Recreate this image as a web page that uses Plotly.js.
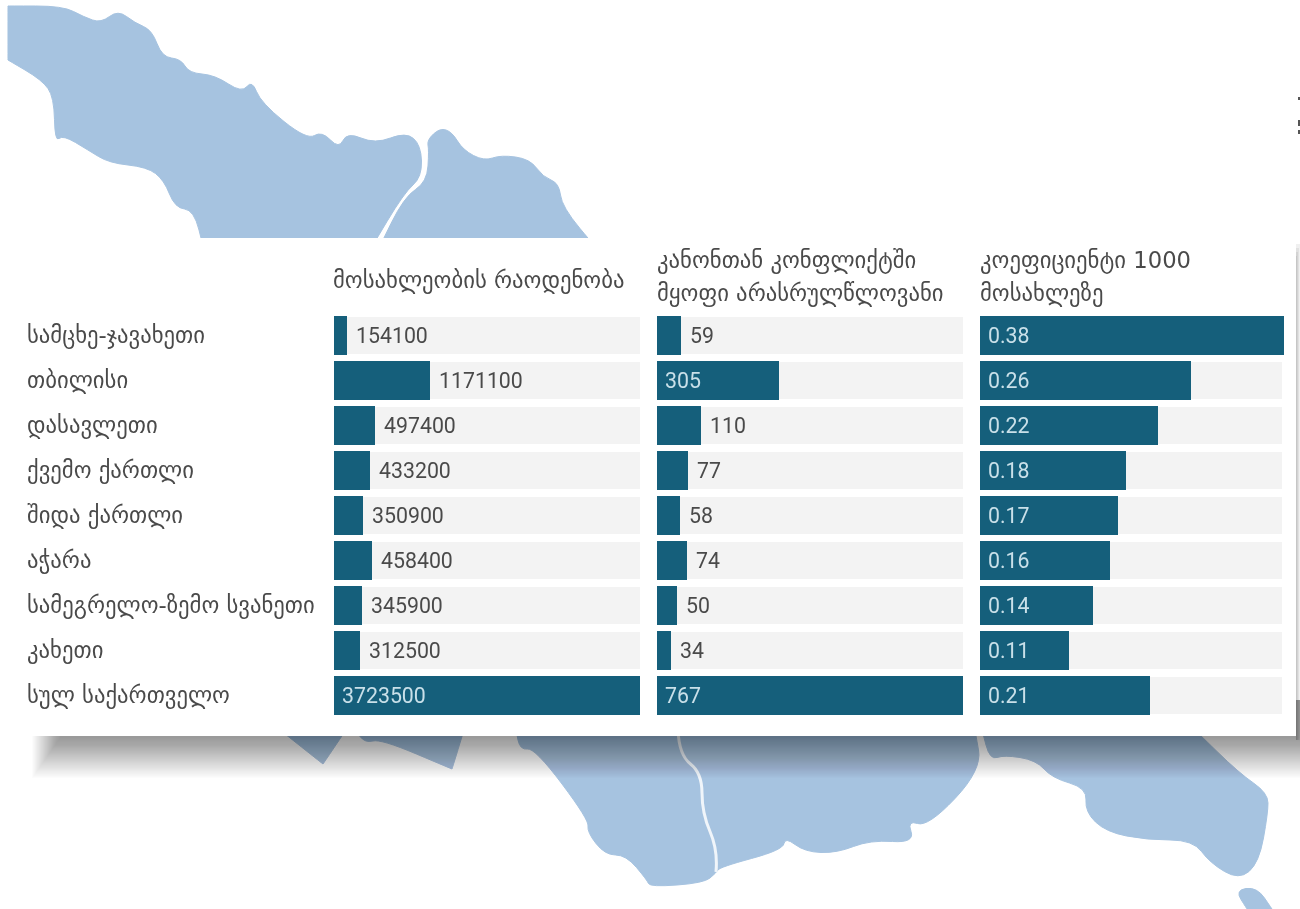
<!DOCTYPE html>
<html><head><meta charset="utf-8">
<script src="https://cdn.plot.ly/plotly-3.0.0.min.js"></script>
<style>html,body{margin:0;padding:0;background:#fff}#chart{width:1300px;height:909px;filter:blur(0.5px)}</style>
</head><body><div id="chart"></div>
<script>
const regions = ['სამცხე-ჯავახეთი','თბილისი','დასავლეთი','ქვემო ქართლი','შიდა ქართლი','აჭარა','სამეგრელო-ზემო სვანეთი','კახეთი','სულ საქართველო'];
const population = [154100,1171100,497400,433200,350900,458400,345900,312500,3723500];
const juveniles = [59,305,110,77,58,74,50,34,767];
const ratePer1000 = [0.38,0.26,0.22,0.18,0.17,0.16,0.14,0.11,0.21];
const populationHeader = ['მოსახლეობის რაოდენობა'];
const juvenilesHeader = ['კანონთან კონფლიქტში','მყოფი არასრულწლოვანი'];
const rateHeader = ['კოეფიციენტი 1000','მოსახლეზე'];

const W = 1300, H = 909;
const BAR = '#155f7b', TRACK = '#f3f3f3', MAP = '#a6c3e0', INK = '#4a4a4a', INSIDE = '#c9e0e9';
const px = (p) => (p[0] / W).toFixed(5) + ',' + (1 - p[1] / H).toFixed(5);
// rounded outline: each vertex is a quadratic control point between edge midpoints; a doubled vertex stays sharp
const mid = (a, b) => [(a[0] + b[0]) / 2, (a[1] + b[1]) / 2];
const smoothClosed = (pts) => {
  let d = 'M' + px(mid(pts[pts.length - 1], pts[0]));
  pts.forEach((p, i) => { d += ' Q' + px(p) + ' ' + px(mid(p, pts[(i + 1) % pts.length])); });
  return d + ' Z';
};
const smoothOpen = (pts) => {
  let d = 'M' + px(pts[0]);
  for (let i = 1; i < pts.length - 1; i++) d += ' Q' + px(pts[i]) + ' ' + px(i === pts.length - 2 ? pts[i + 1] : mid(pts[i], pts[i + 1]));
  return d;
};

// decorative background map, page-pixel outlines
const mapWest = [[8,6],[8,6],[63,6],[84,17],[101,23],[118,10],[135,23],[152,30],[162,57],[181,59],[189,73],[215,75],[242,93],[252,80],[261,103],[307,140],[322,131],[339,149],[347,132],[375,144],[406,132],[421,145],[422,177],[404,193],[370,250],[370,250],[204,250],[204,250],[194,210],[175,208],[164,180],[147,167],[109,163],[88,150],[63,135],[55,142],[54,97],[42,80],[8,60],[8,60]];
const mapEast = [[427,140],[440,128],[452,132],[463,150],[484,161],[501,155],[530,159],[543,177],[559,183],[562,207],[598,250],[598,250],[378,250],[378,250],[404,197],[427,182],[429,150]];
const mapA = [[280,730],[280,730],[323,764],[323,764],[346,730],[346,730]];
const mapB = [[355,730],[355,730],[365,743],[381,739],[452,769],[452,769],[464,730],[464,730]];
const mapC = [[516,730],[516,730],[520,750],[535,748],[589,820],[587,832],[605,855],[626,855],[647,880],[650,887],[704,883],[716,873],[720,867],[783,850],[785,837],[805,852],[837,853],[870,840],[915,843],[907,820],[928,827],[982,770],[975,730],[975,730]];
const mapD = [[982,730],[982,730],[990,760],[1004,755],[1036,760],[1052,778],[1087,788],[1085,812],[1106,832],[1147,840],[1193,840],[1210,863],[1239,880],[1259,863],[1268,813],[1268,793],[1239,773],[1195,730],[1195,730]];
const mapE = [[1235,890],[1257,887],[1272,909],[1272,909],[1247,909],[1247,909]];
const river = [[678,730],[679,755],[702,773],[702,813],[718,850],[716,872]];
const river2 = [[977,730],[982,770]];

const shapes = [];
[mapWest, mapEast, mapA, mapB, mapC, mapD, mapE].forEach(p =>
  shapes.push({type:'path', xref:'paper', yref:'paper', layer:'below', path:smoothClosed(p), fillcolor:MAP, line:{width:1, color:MAP}}));
[river, river2].forEach(p =>
  shapes.push({type:'path', xref:'paper', yref:'paper', layer:'below', path:smoothOpen(p), line:{width:3, color:'#f0f5fa'}}));
// soft shadow under the card
for (let i = 0; i < 36; i++) {
  shapes.push({type:'rect', xref:'paper', yref:'paper', layer:'below',
    x0:(60 - i * 0.8) / W, x1:1310 / W, y0:1 - (738 + i * 1.15) / H, y1:1 - 700 / H,
    fillcolor:'rgba(0,0,0,0.0105)', line:{width:0}});
}
// shadow strip at the card's right edge
for (let i = 0; i < 4; i++) {
  shapes.push({type:'rect', xref:'paper', yref:'paper', layer:'below',
    x0:1296 / W, x1:(1297 + i) / W, y0:1 - 740 / H, y1:1 - (256 - i * 4) / H,
    fillcolor:'rgba(0,0,0,0.06)', line:{width:0}});
}
shapes.push({type:'rect', xref:'paper', yref:'paper', layer:'below', x0:22/W, x1:1296/W, y0:1-736/H, y1:1-238/H, fillcolor:'#ffffff', line:{width:0}});
// tiny clipped glyph at the right edge of the source image
[[97,100],[120,126],[130,134]].forEach(r =>
  shapes.push({type:'rect', xref:'paper', yref:'paper', layer:'below', x0:1298/W, x1:1300/W, y0:1-r[1]/H, y1:1-r[0]/H, fillcolor:'#555', line:{width:0}}));

const columns = [
  {vals:population, xa:'x',  key:'xaxis',  dom:[334,640], range:[0,3723500], inside:[8]},
  {vals:juveniles,  xa:'x2', key:'xaxis2', dom:[657,963], range:[0,767], inside:[1,8]},
  {vals:ratePer1000,xa:'x3', key:'xaxis3', dom:[980,1284], range:[0,0.3753], inside:[0,1,2,3,4,5,6,7,8]}
];
const traces = [], annotations = [];
columns.forEach((c, ci) => {
  const trackEnd = ci === 2 ? 0.3728 : c.range[1];
  traces.push({type:'bar', orientation:'h', x:regions.map(() => trackEnd), y:regions, xaxis:c.xa, yaxis:'y', width:0.83, marker:{color:TRACK}, hoverinfo:'skip', showlegend:false});
  traces.push({type:'bar', orientation:'h', x:c.vals, y:regions, xaxis:c.xa, yaxis:'y', width:0.85, marker:{color:BAR}, showlegend:false});
  c.vals.forEach((v, i) => {
    const ins = c.inside.includes(i);
    annotations.push({xref:c.xa, yref:'y', x:ins ? 0 : v, y:regions[i], xshift:ins ? 6 : 7, text:String(v), showarrow:false, xanchor:'left', yanchor:'middle',
      font:{family:'Roboto, sans-serif', size:21.3, color:ins ? INSIDE : INK}});
  });
});
regions.forEach(r => annotations.push({xref:'paper', yref:'y', x:25/W, y:r, text:r, showarrow:false, xanchor:'left', yanchor:'middle',
  font:{family:'DejaVu Sans, sans-serif', size:22.7, color:INK}}));
const headerAt = (lines, xPx, ys) => lines.forEach((t, i) => annotations.push({xref:'paper', yref:'paper', x:xPx/W, y:1 - ys[i]/H, text:t, showarrow:false, xanchor:'left', yanchor:'middle',
  font:{family:'DejaVu Sans, sans-serif', size:22.7, color:INK}}));
headerAt(populationHeader, 331, [280]);
headerAt(juvenilesHeader, 655, [260, 294]);
headerAt(rateHeader, 978, [260, 294]);

const layout = {
  width:W, height:H, margin:{l:0,r:0,t:0,b:0}, paper_bgcolor:'#ffffff', plot_bgcolor:'rgba(0,0,0,0)',
  barmode:'overlay', bargap:0, showlegend:false, shapes, annotations,
  yaxis:{type:'category', categoryorder:'array', categoryarray:regions, range:[8.5,-0.5], domain:[1-718/H, 1-313/H], visible:false, anchor:'x', fixedrange:true}
};
columns.forEach(c => { layout[c.key] = {domain:[c.dom[0]/W, c.dom[1]/W], range:c.range, visible:false, anchor:'y', fixedrange:true}; });
Plotly.newPlot('chart', traces, layout, {displayModeBar:false, staticPlot:true});
</script></body></html>
